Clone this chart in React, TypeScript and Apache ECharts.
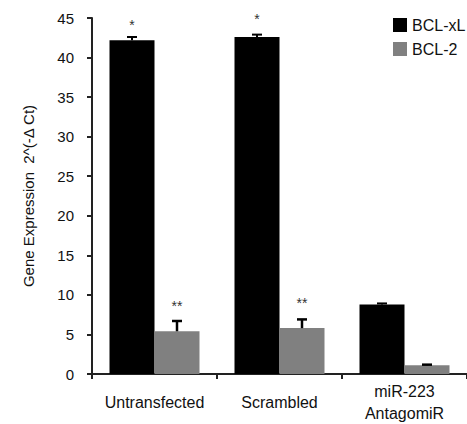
import React, { useEffect, useRef } from "react";
import * as echarts from "echarts";

const categories = ["Untransfected", "Scrambled", "miR-223\nAntagomiR"];
const seriesNames = ["BCL-xL", "BCL-2"];
const bclxl = [42.2, 42.6, 8.8];
const bcl2 = [5.4, 5.8, 1.1];
const bclxlErr = [0.4, 0.3, 0.12];
const bcl2Err = [1.3, 1.1, 0.08];
const bclxlStars = ["*", "*", ""];
const bcl2Stars = ["**", "**", ""];
const yTicks = { min: 0, max: 45, interval: 5 };

const FONT = "'Liberation Sans', Arial, Helvetica, sans-serif";
const BAR_GAP_FRAC = 0.28;

function makeBarData(values: number[], stars: string[], dist: number[]) {
  return values.map((v, i) => ({
    value: v,
    label: stars[i]
      ? {
          show: true,
          position: "top",
          formatter: stars[i],
          distance: dist[i],
          fontSize: 14,
          color: "#333",
          textBorderWidth: 0,
          fontFamily: FONT,
        }
      : { show: false },
  }));
}

function errorSeries(values: number[], errs: number[], side: number, color: string, width: number) {
  return {
    type: "custom",
    name: "err" + side,
    silent: true,
    z: 5,
    data: values.map((v, i) => [i, v, v + errs[i]]),
    renderItem: (params: any, api: any) => {
      const idx = api.value(0);
      const lo = api.coord([idx, api.value(1)]);
      const hi = api.coord([idx, api.value(2)]);
      const catW = api.size([1, 0])[0];
      const barW = (catW * (1 - BAR_GAP_FRAC)) / 2;
      const x = lo[0] + side * (barW / 2);
      const cap = 5;
      return {
        type: "group",
        children: [
          {
            type: "line",
            shape: { x1: x, y1: lo[1], x2: x, y2: hi[1] },
            style: { stroke: color, lineWidth: width },
          },
          {
            type: "line",
            shape: { x1: x - cap, y1: hi[1], x2: x + cap, y2: hi[1] },
            style: { stroke: color, lineWidth: width },
          },
        ],
      };
    },
  };
}

export default function App() {
  const ref = useRef<HTMLDivElement>(null);
  useEffect(() => {
    if (!ref.current) return;
    const chart = echarts.init(ref.current, undefined, { renderer: "svg" });
    chart.setOption({
      animation: false,
      backgroundColor: "#fff",
      textStyle: { fontFamily: FONT },
      grid: { left: 92, top: 18, bottom: 49, right: -9, containLabel: false },
      legend: {
        data: seriesNames,
        orient: "vertical",
        left: 388,
        top: 12,
        itemWidth: 14,
        itemHeight: 14,
        itemGap: 8,
        icon: "rect",
        textStyle: { fontSize: 16, color: "#111", fontFamily: FONT },
      },
      xAxis: {
        type: "category",
        data: categories,
        boundaryGap: true,
        axisLine: { lineStyle: { color: "#222", width: 2 } },
        axisTick: { show: true, length: 5, lineStyle: { color: "#222", width: 2 } },
        axisLabel: {
          fontSize: 16,
          color: "#111",
          fontFamily: FONT,
          margin: 28,
          verticalAlign: "middle",
          lineHeight: 22,
          interval: 0,
        },
      },
      yAxis: {
        type: "value",
        min: yTicks.min,
        max: yTicks.max,
        interval: yTicks.interval,
        name: "Gene Expression  2^(-Δ Ct)",
        nameLocation: "middle",
        nameGap: 56,
        nameTextStyle: { fontSize: 15, color: "#111", fontFamily: FONT },
        axisLine: { show: true, lineStyle: { color: "#222", width: 2 } },
        axisTick: { show: true, length: 5, lineStyle: { color: "#222", width: 2 } },
        splitLine: { show: false },
        axisLabel: { fontSize: 15, color: "#111", fontFamily: FONT, margin: 18 },
      },
      series: [
        {
          name: seriesNames[0],
          type: "bar",
          barGap: "0%",
          barCategoryGap: BAR_GAP_FRAC * 100 + "%",
          itemStyle: { color: "#000" },
          data: makeBarData(bclxl, bclxlStars, [8, 11, 0]),
        },
        {
          name: seriesNames[1],
          type: "bar",
          barGap: "0%",
          barCategoryGap: BAR_GAP_FRAC * 100 + "%",
          itemStyle: { color: "#808080" },
          data: makeBarData(bcl2, bcl2Stars, [18, 18, 0]),
        },
        errorSeries(bclxl, bclxlErr, -1, "#000", 2),
        errorSeries(bcl2, bcl2Err, 1, "#000", 2.5),
      ],
    });
    return () => chart.dispose();
  }, []);
  return (
    <div
      ref={ref}
      style={{ position: "absolute", left: 0, top: 0, width: 467, height: 424 }}
    />
  );
}
